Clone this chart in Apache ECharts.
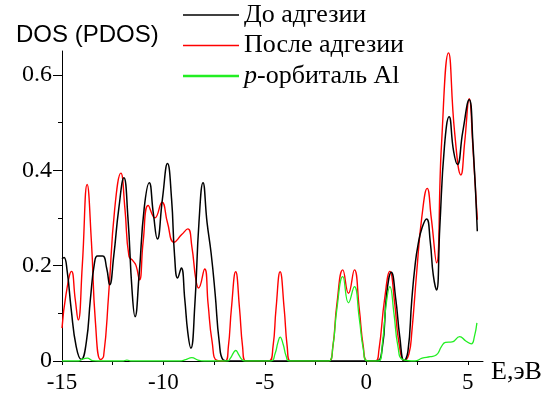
<!DOCTYPE html>
<html>
<head>
<meta charset="utf-8">
<script src="https://cdn.jsdelivr.net/npm/echarts@6/dist/echarts.min.js"></script>
<style>
  html, body { margin: 0; padding: 0; background: #fff; }
  #chart { width: 553px; height: 396px; }
</style>
</head>
<body>
<div id="chart"></div>
<script>
"use strict";

// Energy (eV) vs density of states.
// Black: before adhesion
const dosBefore = [
  [-15, 0.214], [-14.9, 0.217], [-14.75, 0.19], [-14.55, 0.11], [-14.3, 0.03],
  [-14.05, 0.003], [-13.8, 0.04], [-13.6, 0.13], [-13.4, 0.205], [-13.25, 0.22],
  [-13.0, 0.22], [-12.8, 0.195], [-12.65, 0.16], [-12.45, 0.22], [-12.2, 0.32],
  [-11.95, 0.384], [-11.75, 0.3], [-11.55, 0.15], [-11.4, 0.093], [-11.2, 0.18],
  [-10.95, 0.32], [-10.7, 0.374], [-10.5, 0.31], [-10.3, 0.256], [-10.05, 0.34],
  [-9.8, 0.414], [-9.6, 0.34], [-9.45, 0.22], [-9.3, 0.174], [-9.12, 0.195],
  [-8.95, 0.13], [-8.8, 0.06], [-8.65, 0.027], [-8.45, 0.12], [-8.25, 0.29],
  [-8.05, 0.374], [-7.85, 0.29], [-7.65, 0.226], [-7.45, 0.14], [-7.25, 0.04],
  [-7.05, 0.002], [-6.8, 0], [0.45, 0], [0.77, 0.023], [1.0, 0.14],
  [1.23, 0.186], [1.45, 0.13], [1.65, 0.05], [1.86, 0], [2.05, 0.02],
  [2.24, 0.128], [2.4, 0.2], [2.55, 0.244], [2.75, 0.28], [2.97, 0.298],
  [3.15, 0.25], [3.3, 0.18], [3.46, 0.149], [3.62, 0.28], [3.85, 0.45],
  [4.08, 0.512], [4.3, 0.44], [4.49, 0.412], [4.75, 0.48], [5.07, 0.548],
  [5.25, 0.46], [5.47, 0.272],
];

// Red: after adhesion
const dosAfter = [
  [-15, 0.069], [-14.8, 0.14], [-14.53, 0.188], [-14.35, 0.13], [-14.2, 0.086],
  [-14.0, 0.2], [-13.76, 0.37], [-13.55, 0.25], [-13.35, 0.08], [-13.1, 0.003],
  [-12.95, 0.01], [-12.7, 0.14], [-12.4, 0.32], [-12.1, 0.394], [-11.9, 0.32],
  [-11.7, 0.22], [-11.5, 0.21], [-11.35, 0.2], [-11.18, 0.17], [-11.0, 0.25],
  [-10.75, 0.326], [-10.42, 0.3], [-10.07, 0.333], [-9.8, 0.29], [-9.48, 0.249],
  [-9.1, 0.265], [-8.8, 0.277], [-8.6, 0.24], [-8.4, 0.17], [-8.27, 0.153],
  [-7.97, 0.193], [-7.8, 0.12], [-7.6, 0.04], [-7.35, 0.001], [-6.95, 0],
  [-6.8, 0.03], [-6.65, 0.11], [-6.44, 0.187], [-6.25, 0.11], [-6.1, 0.03],
  [-5.95, 0], [-4.8, 0], [-4.6, 0.03], [-4.45, 0.11], [-4.25, 0.187],
  [-4.05, 0.11], [-3.9, 0.03], [-3.75, 0], [-1.85, 0], [-1.65, 0.03],
  [-1.45, 0.12], [-1.16, 0.191], [-0.88, 0.142], [-0.59, 0.191], [-0.35, 0.11],
  [-0.15, 0.03], [0.05, 0], [0.45, 0], [0.62, 0.023], [0.9, 0.13], [1.16, 0.188],
  [1.4, 0.12], [1.6, 0.04], [1.88, 0.001], [2.1, 0.015], [2.24, 0.06],
  [2.48, 0.185], [2.73, 0.3], [3.0, 0.362], [3.2, 0.3], [3.46, 0.206],
  [3.7, 0.45], [4.05, 0.646], [4.35, 0.48], [4.66, 0.39], [4.85, 0.46],
  [5.07, 0.55], [5.25, 0.45], [5.47, 0.296],
];

// Green: Al p-orbital PDOS
const pdosAl = [
  [-15, 0], [-14.2, 0], [-14.0, 0.004], [-13.75, 0.006], [-13.5, 0.001],
  [-13.2, 0], [-12.0, 0], [-11.8, 0.002], [-11.6, 0], [-9.2, 0], [-8.9, 0.003],
  [-8.6, 0.007], [-8.3, 0.002], [-8.0, 0], [-6.85, 0], [-6.7, 0.006],
  [-6.55, 0.017], [-6.44, 0.022], [-6.3, 0.014], [-6.15, 0.004], [-6.0, 0],
  [-4.7, 0], [-4.5, 0.015], [-4.35, 0.04], [-4.25, 0.05], [-4.1, 0.035],
  [-3.95, 0.01], [-3.8, 0], [-1.85, 0], [-1.65, 0.03], [-1.45, 0.11],
  [-1.16, 0.177], [-0.88, 0.122], [-0.59, 0.156], [-0.35, 0.09], [-0.15, 0.025],
  [0.05, 0], [0.6, 0], [0.8, 0.04], [0.98, 0.12], [1.16, 0.156], [1.36, 0.1],
  [1.56, 0.03], [1.8, 0.003], [2.4, 0], [2.75, 0.006], [3.15, 0.009],
  [3.46, 0.013], [3.7, 0.03], [3.9, 0.039], [4.23, 0.04], [4.6, 0.051],
  [4.9, 0.042], [5.18, 0.036], [5.32, 0.05], [5.45, 0.08],
];

const xMajorTicks = [-15, -10, -5, 0, 5];
const xMinorTicks = [-12.5, -7.5, -2.5, 2.5];
const yMajorTicks = [0, 0.2, 0.4, 0.6];
const yMinorTicks = [0.1, 0.3, 0.5];

const NAMES = ["До адгезии", "После адгезии", "p-орбиталь Al"];
const COLORS = ["#000000", "#ff0000", "#22ee22"];
const SERIF = "Liberation Serif";

// thin bars used as legend line icons (thickness = last number)
const THIN_LINE = "path://M0,0H56V1.4H0Z";
const THICK_LINE = "path://M0,0H56V2.4H0Z";

const chart = echarts.init(document.getElementById("chart"), null, { renderer: "canvas" });

function lineSeries(name, data, color, width, z) {
  return {
    name: name,
    type: "line",
    data: data,
    symbol: "none",
    smooth: 0.5,
    z: z,
    color: color,
    lineStyle: { color: color, width: width },
    itemStyle: { color: color },
  };
}

function legendItem(i, icon) {
  return {
    name: NAMES[i],
    icon: icon,
    itemStyle: { color: COLORS[i], borderColor: COLORS[i], borderWidth: 0 },
    lineStyle: { color: COLORS[i], width: 0 },
  };
}

// serif text via rich style, so axis labels don't fall back to the default sans
const serifRich = (size) => ({ s: { fontFamily: SERIF, fontSize: size, color: "#000" } });

chart.setOption({
  animation: false,
  backgroundColor: "#fff",
  textStyle: { fontFamily: SERIF, color: "#000" },
  grid: { left: 62, right: 70, top: 51, bottom: 35 },
  legend: {
    orient: "vertical",
    left: 183,
    top: 2,
    padding: 0,
    itemWidth: 56,
    itemHeight: 14,
    itemGap: 4.5,
    data: [
      legendItem(0, THIN_LINE),
      legendItem(1, THIN_LINE),
      legendItem(2, THICK_LINE),
    ],
    textStyle: {
      fontFamily: SERIF,
      fontSize: 26,
      lineHeight: 26,
      color: "#000",
      rich: { i: { fontFamily: SERIF, fontSize: 26, fontStyle: "italic", color: "#000" } },
    },
    formatter: (name) => (name === NAMES[2] ? "{i|p}-орбиталь Al" : name),
  },
  graphic: [
    {
      type: "text",
      left: 16,
      top: 23,
      style: {
        text: "DOS (PDOS)",
        font: "24px 'Liberation Sans', Arial, sans-serif",
        fill: "#000",
      },
    },
  ],
  xAxis: {
    type: "value",
    min: -15,
    max: 5.75,
    name: "{s|E,эВ}",
    nameLocation: "end",
    nameGap: 8,
    nameTextStyle: {
      fontFamily: SERIF,
      fontSize: 26,
      color: "#000",
      verticalAlign: "top",
      lineHeight: 22,
      rich: serifRich(26),
    },
    axisLine: { lineStyle: { color: "#000", width: 1 } },
    axisTick: {
      customValues: xMajorTicks.concat(xMinorTicks),
      length: 4,
      lineStyle: { color: "#000" },
    },
    axisLabel: {
      customValues: xMajorTicks,
      fontFamily: SERIF,
      fontSize: 23,
      color: "#000",
      margin: 10,
      rich: serifRich(23),
      formatter: (v) => "{s|" + String(v) + "}",
    },
    splitLine: { show: false },
  },
  yAxis: [
    {
      type: "value",
      min: 0,
      max: 0.65,
      axisLine: { show: true, onZero: false, lineStyle: { color: "#000", width: 1 } },
      axisTick: {
        customValues: yMajorTicks,
        length: 9,
        lineStyle: { color: "#000" },
      },
      axisLabel: {
        customValues: yMajorTicks,
        fontFamily: SERIF,
        fontSize: 24,
        color: "#000",
        margin: 10,
        rich: serifRich(24),
        formatter: (v) => "{s|" + (v === 0 ? "0" : v.toFixed(1)) + "}",
      },
      splitLine: { show: false },
    },
    {
      type: "value",
      position: "left",
      min: 0,
      max: 0.65,
      axisLine: { show: false, onZero: false },
      axisTick: {
        customValues: yMinorTicks,
        length: 4,
        lineStyle: { color: "#000" },
      },
      axisLabel: { show: false },
      splitLine: { show: false },
    },
  ],
  series: [
    lineSeries(NAMES[1], dosAfter, COLORS[1], 1.4, 2),
    lineSeries(NAMES[0], dosBefore, COLORS[0], 1.5, 3),
    lineSeries(NAMES[2], pdosAl, COLORS[2], 1.3, 4),
  ],
});
</script>
</body>
</html>
